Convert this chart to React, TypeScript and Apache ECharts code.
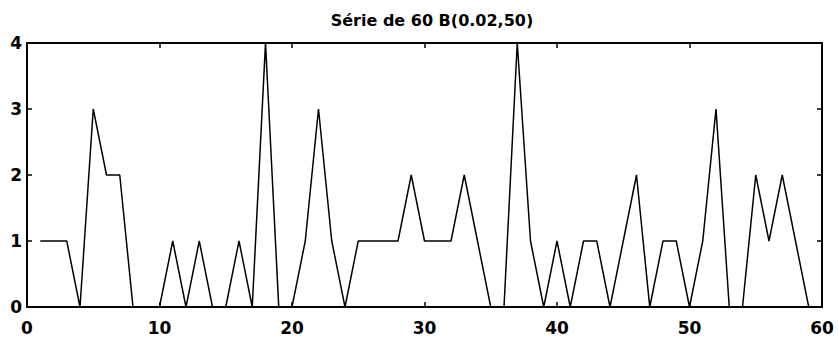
import React, { useEffect, useRef } from "react";
import * as echarts from "echarts";

const titleText = "Série de 60 B(0.02,50)";
const xValues = [
  1, 2, 3, 4, 5, 6, 7, 8, 9, 10, 11, 12, 13, 14, 15, 16, 17, 18, 19, 20,
  21, 22, 23, 24, 25, 26, 27, 28, 29, 30, 31, 32, 33, 34, 35, 36, 37, 38, 39, 40,
  41, 42, 43, 44, 45, 46, 47, 48, 49, 50, 51, 52, 53, 54, 55, 56, 57, 58, 59, 60,
];
const yValues = [
  1, 1, 1, 0, 3, 2, 2, 0, 0, 0, 1, 0, 1, 0, 0, 1, 0, 4, 0, 0,
  1, 3, 1, 0, 1, 1, 1, 1, 2, 1, 1, 1, 2, 1, 0, 0, 4, 1, 0, 1,
  0, 1, 1, 0, 1, 2, 0, 1, 1, 0, 1, 3, 0, 0, 2, 1, 2, 1, 0, 0,
];

const font = "'DejaVu Sans', Arial, Helvetica, sans-serif";

export default function App() {
  const ref = useRef<HTMLDivElement>(null);
  useEffect(() => {
    if (!ref.current) return;
    const chart = echarts.init(ref.current, null, { renderer: "svg" });
    const axisLine = { show: true, onZero: false, lineStyle: { color: "#000", width: 2 } };
    const tick = { show: true, inside: true, length: 5, lineStyle: { color: "#000", width: 1.5 } };
    const label = { color: "#000", fontSize: 17, fontWeight: "bold" as const, fontFamily: font };
    chart.setOption({
      animation: false,
      backgroundColor: "#fff",
      title: {
        text: titleText,
        left: 427,
        textAlign: "center",
        top: 7,
        textStyle: { color: "#000", fontSize: 16, fontWeight: "bold", fontFamily: font },
      },
      grid: { left: 27, right: 17, top: 43, bottom: 35 },
      xAxis: [
        {
          type: "value",
          min: 0,
          max: 60,
          interval: 10,
          position: "bottom",
          axisLine,
          axisTick: tick,
          axisLabel: { ...label, margin: 12 },
          splitLine: { show: false },
        },
        {
          type: "value",
          min: 0,
          max: 60,
          interval: 10,
          position: "top",
          axisLine,
          axisTick: tick,
          axisLabel: { show: false },
          splitLine: { show: false },
        },
      ],
      yAxis: [
        {
          type: "value",
          min: 0,
          max: 4,
          interval: 1,
          position: "left",
          axisLine,
          axisTick: tick,
          axisLabel: { ...label, margin: 5 },
          splitLine: { show: false },
        },
        {
          type: "value",
          min: 0,
          max: 4,
          interval: 1,
          position: "right",
          axisLine,
          axisTick: tick,
          axisLabel: { show: false },
          splitLine: { show: false },
        },
      ],
      series: [
        {
          type: "line",
          xAxisIndex: 0,
          yAxisIndex: 0,
          data: xValues.map((x, i) => [x, yValues[i]]),
          showSymbol: false,
          symbol: "none",
          lineStyle: { color: "#000", width: 1.5 },
        },
      ],
    });
    return () => chart.dispose();
  }, []);
  return <div ref={ref} style={{ width: 839, height: 342, position: "absolute", left: 0, top: 0 }} />;
}
